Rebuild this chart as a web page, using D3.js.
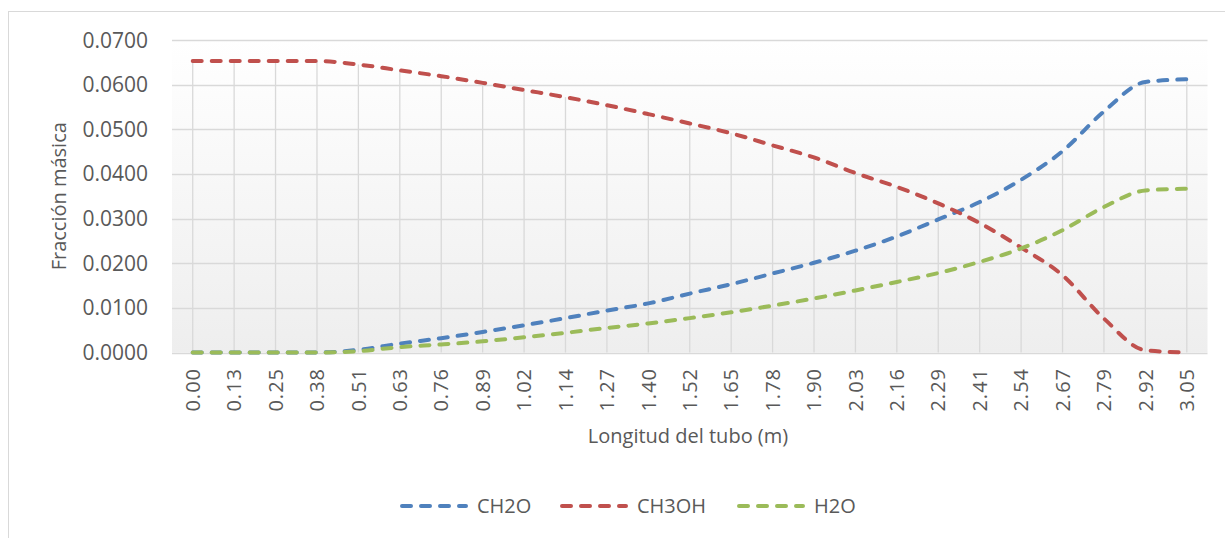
<!DOCTYPE html>
<html>
<head>
<meta charset="utf-8">
<script src="https://cdn.jsdelivr.net/npm/d3@7/dist/d3.min.js"></script>
<style>
  body { margin: 0; background: #fff; }
  text { font-family: "Open Sans", "DejaVu Sans", sans-serif; fill: #595959; }
</style>
</head>
<body>
<div class="graph"></div>
<script>
// longitud del tubo (m)
var longitudes = ["0.00","0.13","0.25","0.38","0.51","0.63","0.76","0.89","1.02","1.14","1.27","1.40",
  "1.52","1.65","1.78","1.90","2.03","2.16","2.29","2.41","2.54","2.67","2.79","2.92","3.05"];

var ch2o = [0,0,0,0,0.0006,0.0020,0.0032,0.0046,0.0061,0.0077,0.0094,0.0110,
  0.0132,0.0153,0.0177,0.0201,0.0228,0.0260,0.0298,0.0337,0.0387,0.0451,0.0540,0.0606,0.0612];

var ch3oh = [0.0653,0.0653,0.0653,0.0653,0.0645,0.0632,0.0619,0.0604,0.0588,0.0572,0.0554,0.0534,
  0.0513,0.0491,0.0464,0.0437,0.0402,0.0371,0.0334,0.0290,0.0235,0.0173,0.0076,0.0005,0.0000];

var h2o = [0,0,0,0,0.0003,0.0012,0.0018,0.0025,0.0034,0.0044,0.0055,0.0065,
  0.0077,0.0090,0.0105,0.0121,0.0139,0.0158,0.0178,0.0203,0.0233,0.0274,0.0326,0.0363,0.0367];

var yTicks = [0,0.01,0.02,0.03,0.04,0.05,0.06,0.07];

var series = [
  {name: "CH2O", values: ch2o, color: "#4f81bd"},
  {name: "CH3OH", values: ch3oh, color: "#c0504d"},
  {name: "H2O", values: h2o, color: "#9bbb59"}
];

var width = 1225, height = 538;
var plot = {left: 172, right: 1207.5, top: 40, bottom: 352.5};

var svg = d3.select(".graph").append("svg")
  .attr("width", width)
  .attr("height", height);

// borde del gráfico
svg.append("rect")
  .attr("x", 8.5).attr("y", 11.5)
  .attr("width", width + 20).attr("height", height + 20)
  .attr("fill", "#fff")
  .attr("stroke", "#d9d9d9");

var defs = svg.append("defs");
var grad = defs.append("linearGradient").attr("id", "fondo")
  .attr("x1", 0).attr("y1", 0).attr("x2", 0).attr("y2", 1);
grad.append("stop").attr("offset", "0%").attr("stop-color", "#ffffff");
grad.append("stop").attr("offset", "100%").attr("stop-color", "#eeeeee");

var x = d3.scalePoint().domain(longitudes).range([plot.left, plot.right]).padding(0.5);
var y = d3.scaleLinear().domain([0, 0.07]).range([plot.bottom, plot.top]);

svg.append("rect")
  .attr("x", plot.left).attr("y", plot.top)
  .attr("width", plot.right - plot.left).attr("height", plot.bottom - plot.top)
  .attr("fill", "url(#fondo)");

// lineas horizontales
svg.append("g").selectAll("line")
  .data(yTicks)
  .enter().append("line")
  .attr("x1", plot.left).attr("x2", plot.right)
  .attr("y1", function(d){ return Math.round(y(d)) + 0.5; })
  .attr("y2", function(d){ return Math.round(y(d)) + 0.5; })
  .attr("stroke", "#d9d9d9")
  .attr("stroke-width", 1.3);

// lineas de caida (desde el valor maximo hasta el eje)
svg.append("g").selectAll("line")
  .data(longitudes)
  .enter().append("line")
  .attr("x1", function(d){ return x(d); })
  .attr("x2", function(d){ return x(d); })
  .attr("y1", function(d, i){ return y(d3.max(series, function(s){ return s.values[i]; })); })
  .attr("y2", y(0))
  .attr("stroke", "#d9d9d9")
  .attr("stroke-width", 1.3);

// etiquetas del eje y
svg.append("g").selectAll("text")
  .data(yTicks)
  .enter().append("text")
  .attr("x", 148)
  .attr("y", function(d){ return y(d); })
  .attr("dy", "0.36em")
  .attr("text-anchor", "end")
  .style("font-size", "21px")
  .text(d3.format(".4f"));

// etiquetas del eje x
svg.append("g").selectAll("text")
  .data(longitudes)
  .enter().append("text")
  .attr("transform", function(d){ return "translate(" + x(d) + ",368) rotate(-90)"; })
  .attr("dy", "0.36em")
  .attr("text-anchor", "end")
  .style("font-size", "20px")
  .style("letter-spacing", "1px")
  .text(function(d){ return d; });

svg.append("text")
  .attr("x", 688).attr("y", 436)
  .attr("dy", "0.36em")
  .attr("text-anchor", "middle")
  .style("font-size", "20px")
  .text("Longitud del tubo (m)");

svg.append("text")
  .attr("transform", "translate(59," + (plot.top + plot.bottom) / 2 + ") rotate(-90)")
  .attr("dy", "0.36em")
  .attr("text-anchor", "middle")
  .style("font-size", "20px")
  .text("Fracción másica");

var line = d3.line()
  .x(function(d, i){ return x(longitudes[i]); })
  .y(function(d){ return y(d); })
  .curve(d3.curveMonotoneX);

svg.append("g").selectAll("path")
  .data(series)
  .enter().append("path")
  .attr("d", function(d){ return line(d.values); })
  .attr("fill", "none")
  .attr("stroke", function(d){ return d.color; })
  .attr("stroke-width", 4)
  .attr("stroke-linecap", "round")
  .attr("stroke-dasharray", "9,10");

// leyenda
var legendX = [402, 562, 739];
var leg = svg.append("g").selectAll("g")
  .data(series)
  .enter().append("g")
  .attr("transform", function(d, i){ return "translate(" + legendX[i] + ",506)"; });

leg.append("line")
  .attr("x1", 0).attr("x2", 64)
  .attr("stroke", function(d){ return d.color; })
  .attr("stroke-width", 4)
  .attr("stroke-linecap", "round")
  .attr("stroke-dasharray", "9,10");

leg.append("text")
  .attr("x", 75)
  .attr("dy", "0.36em")
  .style("font-size", "20px")
  .text(function(d){ return d.name; });
</script>
</body>
</html>
